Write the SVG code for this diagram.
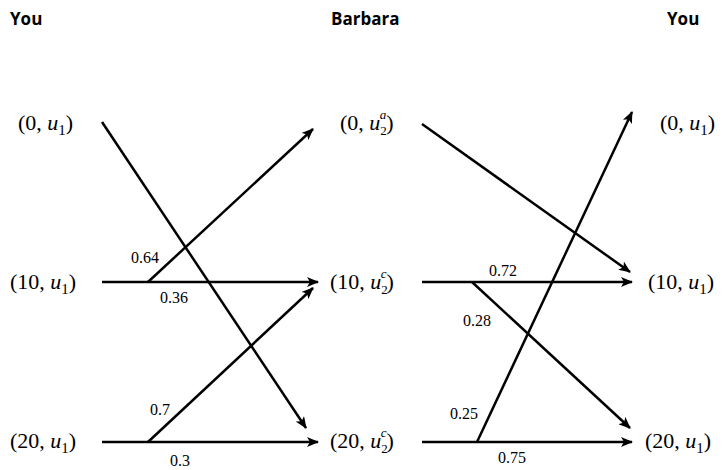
<svg xmlns="http://www.w3.org/2000/svg" width="722" height="470" viewBox="0 0 722 470">
<style>
.h{font-family:"Open Sans","Liberation Sans",sans-serif;font-weight:bold;font-size:17px;fill:#000}
.n{font-family:"Liberation Serif","DejaVu Serif",serif;font-size:22px;fill:#000}
.i{font-style:italic}
.s{font-size:15px}
.t{font-size:13px}
.p{font-family:"Liberation Serif","DejaVu Serif",serif;font-size:16px;fill:#000}
.c line{stroke:#000;stroke-width:2.5;marker-end:url(#a)}
</style>
<defs>
<marker id="a" viewBox="0 0 12 10" refX="11" refY="5" markerWidth="12" markerHeight="10" markerUnits="userSpaceOnUse" orient="auto">
<path d="M0,0 L12,5 L0,10 L3,5 Z" fill="#000"/>
</marker>
</defs>
<text class="h" x="10" y="25">You</text>
<text class="h" x="331" y="25">Barbara</text>
<text class="h" x="667" y="25">You</text>
<g class="c">
<line x1="102" y1="122" x2="306" y2="428"/>
<line x1="102" y1="282" x2="318" y2="282"/>
<line x1="148" y1="282" x2="313" y2="129"/>
<line x1="102" y1="442" x2="318" y2="442"/>
<line x1="148" y1="442" x2="313" y2="288"/>
<line x1="422" y1="124" x2="630" y2="272"/>
<line x1="422" y1="282" x2="632" y2="282"/>
<line x1="472" y1="282" x2="630" y2="428"/>
<line x1="422" y1="442" x2="632" y2="442"/>
<line x1="477" y1="442" x2="632" y2="112"/>
</g>
<g id="y0"><text class="n" x="18" y="130">(0, <tspan class="i">u</tspan><tspan class="s" dy="5">1</tspan><tspan dy="-5">)</tspan></text></g>
<g id="y10"><text class="n" x="10" y="289">(10, <tspan class="i">u</tspan><tspan class="s" dy="5">1</tspan><tspan dy="-5">)</tspan></text></g>
<g id="y20"><text class="n" x="10" y="448">(20, <tspan class="i">u</tspan><tspan class="s" dy="5">1</tspan><tspan dy="-5">)</tspan></text></g>
<g id="b0"><text class="n" x="340" y="130">(0, <tspan class="i">u</tspan><tspan class="t" dy="5">2</tspan><tspan class="t i" dx="-7" dy="-16">a</tspan><tspan dy="11">)</tspan></text></g>
<g id="b10"><text class="n" x="330" y="289">(10, <tspan class="i">u</tspan><tspan class="t" dy="5">2</tspan><tspan class="t i" dx="-7" dy="-16">c</tspan><tspan dy="11">)</tspan></text></g>
<g id="b20"><text class="n" x="330" y="448">(20, <tspan class="i">u</tspan><tspan class="t" dy="5">2</tspan><tspan class="t i" dx="-7" dy="-16">c</tspan><tspan dy="11">)</tspan></text></g>
<g id="r0"><text class="n" x="660" y="130">(0, <tspan class="i">u</tspan><tspan class="s" dy="5">1</tspan><tspan dy="-5">)</tspan></text></g>
<g id="r10"><text class="n" x="648" y="289">(10, <tspan class="i">u</tspan><tspan class="s" dy="5">1</tspan><tspan dy="-5">)</tspan></text></g>
<g id="r20"><text class="n" x="645" y="448">(20, <tspan class="i">u</tspan><tspan class="s" dy="5">1</tspan><tspan dy="-5">)</tspan></text></g>
<text class="p" x="131" y="263">0.64</text>
<text class="p" x="160" y="303">0.36</text>
<text class="p" x="150" y="415">0.7</text>
<text class="p" x="170" y="466">0.3</text>
<text class="p" x="489" y="276">0.72</text>
<text class="p" x="463" y="326">0.28</text>
<text class="p" x="450" y="419">0.25</text>
<text class="p" x="498" y="463">0.75</text>
</svg>
